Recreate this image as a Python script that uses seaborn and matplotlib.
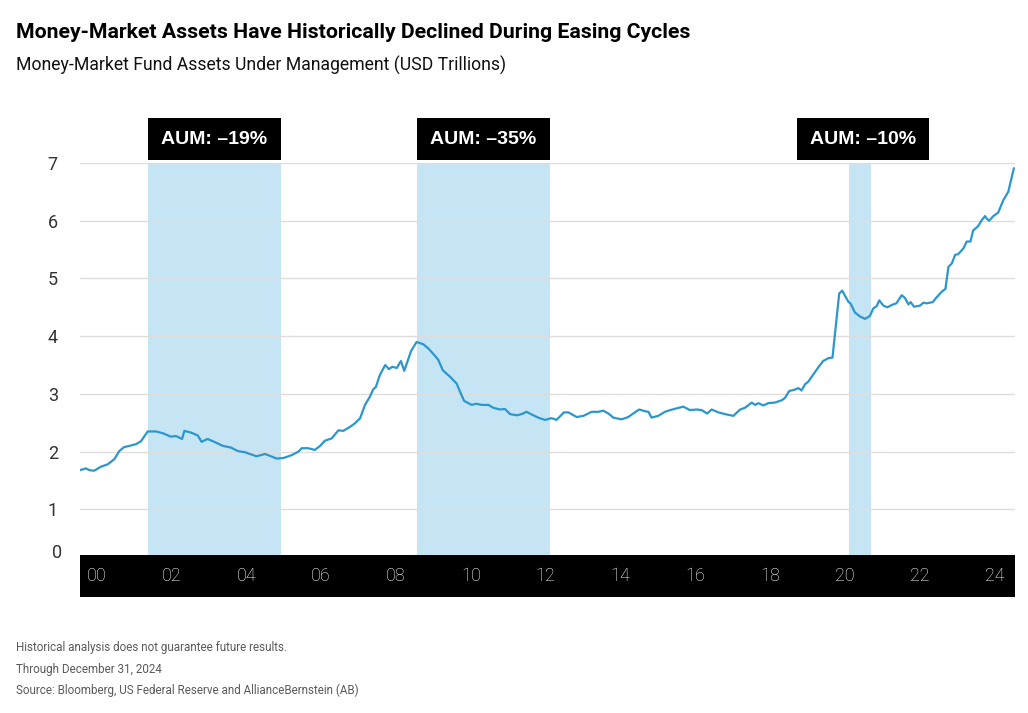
import pandas as pd
import numpy as np
import matplotlib.pyplot as plt
import matplotlib.transforms as mtransforms
import seaborn as sns

# Money-market fund AUM (USD trillions)
years = [2000.00, 2000.16, 2000.25, 2000.38, 2000.56, 2000.74, 2000.92, 2001.05, 2001.18, 2001.32,
         2001.50, 2001.63, 2001.81, 2002.03, 2002.21, 2002.43, 2002.57, 2002.73, 2002.79, 2002.97,
         2003.15, 2003.25, 2003.41, 2003.59, 2003.82, 2004.04, 2004.22, 2004.41, 2004.72, 2004.95,
         2005.26, 2005.44, 2005.66, 2005.84, 2005.93, 2006.10, 2006.28, 2006.42, 2006.55, 2006.73,
         2006.91, 2007.04, 2007.22, 2007.35, 2007.49, 2007.62, 2007.75, 2007.84, 2007.91, 2008.02,
         2008.16, 2008.26, 2008.35, 2008.47, 2008.58, 2008.67, 2008.85, 2009.00, 2009.18, 2009.31,
         2009.45, 2009.58, 2009.70, 2009.89, 2010.07, 2010.16, 2010.27, 2010.47, 2010.60, 2010.74,
         2010.92, 2011.05, 2011.23, 2011.36, 2011.50, 2011.68, 2011.81, 2011.94, 2012.12, 2012.25,
         2012.43, 2012.61, 2012.74, 2012.94, 2013.06, 2013.28, 2013.46, 2013.68, 2013.86, 2013.99,
         2014.13, 2014.26, 2014.48, 2014.66, 2014.79, 2014.95, 2015.11, 2015.20, 2015.28, 2015.46,
         2015.64, 2015.78, 2015.95, 2016.13, 2016.31, 2016.49, 2016.62, 2016.77, 2016.89, 2017.07,
         2017.25, 2017.47, 2017.65, 2017.78, 2017.96, 2018.05, 2018.14, 2018.27, 2018.40, 2018.58,
         2018.76, 2018.85, 2018.96, 2019.09, 2019.21, 2019.29, 2019.39, 2019.47, 2019.61, 2019.74,
         2019.87, 2020.01, 2020.12, 2020.30, 2020.38, 2020.54, 2020.61, 2020.72, 2020.86, 2020.99,
         2021.12, 2021.21, 2021.30, 2021.37, 2021.48, 2021.59, 2021.70, 2021.83, 2021.97, 2022.06,
         2022.15, 2022.21, 2022.30, 2022.46, 2022.55, 2022.64, 2022.80, 2022.90, 2023.04, 2023.14,
         2023.22, 2023.31, 2023.40, 2023.48, 2023.62, 2023.71, 2023.81, 2023.88, 2024.02, 2024.11,
         2024.20, 2024.24, 2024.31, 2024.42, 2024.55, 2024.69, 2024.82, 2024.97]
aum = [1.68, 1.71, 1.68, 1.67, 1.74, 1.78, 1.87, 2.01, 2.08, 2.10,
       2.13, 2.18, 2.35, 2.35, 2.32, 2.26, 2.27, 2.22, 2.36, 2.33,
       2.28, 2.17, 2.22, 2.17, 2.10, 2.07, 2.01, 1.99, 1.92, 1.96,
       1.88, 1.89, 1.94, 2.00, 2.06, 2.06, 2.03, 2.10, 2.19, 2.23,
       2.37, 2.36, 2.43, 2.49, 2.58, 2.81, 2.95, 3.08, 3.12, 3.33,
       3.50, 3.43, 3.47, 3.45, 3.57, 3.40, 3.74, 3.90, 3.86, 3.79,
       3.69, 3.59, 3.41, 3.30, 3.18, 3.04, 2.88, 2.81, 2.83, 2.81,
       2.81, 2.76, 2.73, 2.74, 2.65, 2.63, 2.65, 2.69, 2.63, 2.59,
       2.55, 2.58, 2.55, 2.68, 2.68, 2.60, 2.62, 2.69, 2.69, 2.71,
       2.66, 2.59, 2.56, 2.60, 2.66, 2.73, 2.70, 2.69, 2.59, 2.62,
       2.69, 2.72, 2.75, 2.78, 2.72, 2.73, 2.72, 2.66, 2.73, 2.68,
       2.65, 2.62, 2.73, 2.76, 2.85, 2.81, 2.84, 2.80, 2.84, 2.85,
       2.89, 2.93, 3.05, 3.07, 3.10, 3.06, 3.17, 3.21, 3.34, 3.46,
       3.57, 3.62, 3.63, 4.74, 4.79, 4.60, 4.56, 4.41, 4.34, 4.30,
       4.35, 4.48, 4.52, 4.62, 4.53, 4.50, 4.54, 4.57, 4.71, 4.66,
       4.55, 4.59, 4.51, 4.53, 4.58, 4.57, 4.59, 4.67, 4.77, 4.82,
       5.20, 5.26, 5.41, 5.42, 5.52, 5.64, 5.64, 5.83, 5.91, 6.01,
       6.08, 6.04, 6.00, 6.08, 6.14, 6.36, 6.50, 6.91]

# Easing cycles (shaded) and the AUM change during each
cycle_start = [2001.82, 2009.01, 2020.56]
cycle_end = [2005.37, 2012.57, 2021.14]
cycle_labels = ['AUM: \u201319%', 'AUM: \u201335%', 'AUM: \u201310%']

tick_years = list(range(2000, 2025, 2))
tick_labels = ['00', '02', '04', '06', '08', '10', '12', '14', '16', '18', '20', '22', '24']
y_ticks = [1, 2, 3, 4, 5, 6, 7]

df = pd.DataFrame({'year': years, 'aum': aum})

sns.set_style('white')
plt.rcParams['font.family'] = ['Roboto', 'DejaVu Sans']

line_color = '#2b97cd'
shade_color = '#c6e5f4'

fig = plt.figure(figsize=(10.28, 7.13), dpi=100)
ax = fig.add_axes([80 / 1028, 158 / 713, 935 / 1028, 392 / 713])
band = fig.add_axes([80 / 1028, 116 / 713, 935 / 1028, 42 / 713], sharex=ax)

# shaded easing cycles
for s, e in zip(cycle_start, cycle_end):
    ax.axvspan(s, e, color=shade_color, lw=0, zorder=0)

sns.lineplot(data=df, x='year', y='aum', ax=ax, color=line_color, linewidth=1.6, zorder=3)

ax.set_xlim(2000, 2025)
ax.set_ylim(0.21, 7.0)
ax.set_yticks(y_ticks)
ax.set_yticklabels([str(v) for v in y_ticks], fontsize=13, color='#333333')
ax.tick_params(axis='y', length=0, pad=16)
ax.tick_params(axis='x', length=0, labelbottom=False)
ax.yaxis.grid(True, color='#dddddd', linewidth=1)
ax.set_axisbelow(True)
ax.set_xlabel('')
ax.set_ylabel('')
for sp in ax.spines.values():
    sp.set_visible(False)
ax.text(-0.0195, 0.005, '0', transform=ax.transAxes, ha='right', va='center',
        fontsize=13, color='#333333')

# label boxes above the shaded spans
box_left = [2001.82, 2009.01, 2019.16]
box_right = [2005.37, 2012.57, 2022.70]
trans = mtransforms.blended_transform_factory(ax.transData, ax.transAxes)
for l, r, lab in zip(box_left, box_right, cycle_labels):
    rect = plt.Rectangle((l, 1.008), r - l, 0.107, transform=trans, facecolor='black',
                         edgecolor='none', clip_on=False, zorder=5)
    ax.add_patch(rect)
    ax.text((l + r) / 2, 1.061, lab, transform=trans, ha='center', va='center',
            color='white', fontsize=14, fontweight='bold', family=['Liberation Sans'], zorder=6)

# black year strip
band.set_facecolor('black')
band.set_ylim(0, 1)
band.set_yticks([])
band.tick_params(axis='x', length=0, labelbottom=False)
for sp in band.spines.values():
    sp.set_visible(False)
for yr, lab in zip(tick_years, tick_labels):
    band.text(yr + 0.45, 0.5, lab, ha='center', va='center', color='white',
              fontsize=13, fontweight='light')

# titles and notes
fig.text(16 / 1028, 1 - 33 / 713, 'Money-Market Assets Have Historically Declined During Easing Cycles',
         ha='left', va='center', fontsize=15.3, fontweight='bold', color='black')
fig.text(16 / 1028, 1 - 65 / 713, 'Money-Market Fund Assets Under Management (USD Trillions)',
         ha='left', va='center', fontsize=12.7, color='#111111')
notes = ['Historical analysis does not guarantee future results.',
         'Through December 31, 2024',
         'Source: Bloomberg, US Federal Reserve and AllianceBernstein (AB)']
for i, n in enumerate(notes):
    fig.text(16 / 1028, 1 - (648 + 21 * i) / 713, n, ha='left', va='center',
             fontsize=8.4, color='#5a5a5a')

fig.savefig('out.png', dpi=100, facecolor='white')
